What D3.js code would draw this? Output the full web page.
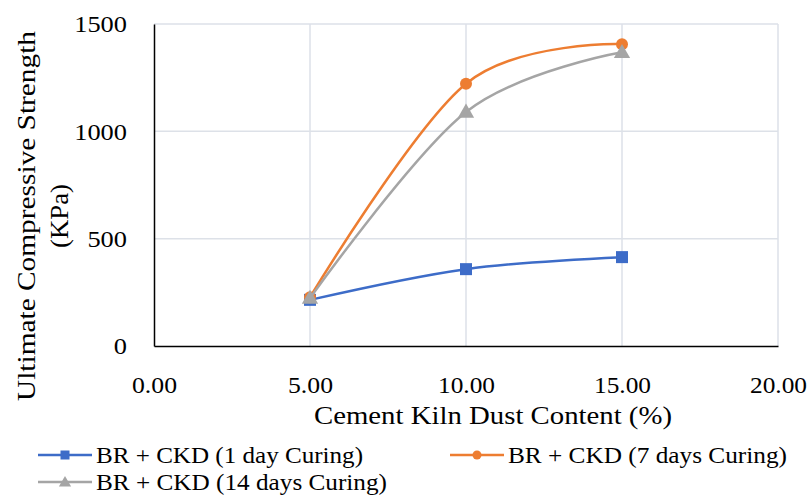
<!DOCTYPE html>
<html><head><meta charset="utf-8">
<script src="https://cdn.jsdelivr.net/npm/d3@7"></script>
<style>body{margin:0;background:#fff}svg{display:block}</style>
</head><body>
<svg id="c" width="812" height="498"></svg>
<script>
const xValues = [5, 10, 15];
const seriesNames = ["BR + CKD (1 day Curing)", "BR + CKD (7 days Curing)", "BR + CKD (14 days Curing)"];
const day1 = [215, 358, 414];
const day7 = [227, 1222, 1406];
const day14 = [223, 1090, 1368];
const xTicks = [0, 5, 10, 15, 20];
const yTicks = [0, 500, 1000, 1500];
const colors = ["#3D6CC8", "#ED7D31", "#A5A5A5"];
const markers = ["square", "circle", "triangle"];
const seriesData = [day1, day7, day14];

const svg = d3.select("#c");
const font = "'Liberation Serif', 'DejaVu Serif', serif";
const L = 154, R = 778, T = 24, B = 346;
const x = d3.scaleLinear().domain([0, 20]).range([L, R]);
const y = d3.scaleLinear().domain([0, 1500]).range([B, T]);

// gridlines
svg.append("g").selectAll("line").data(xTicks.slice(1)).join("line")
  .attr("x1", d => x(d)).attr("x2", d => x(d)).attr("y1", T).attr("y2", B)
  .attr("stroke", "#dde1e8").attr("stroke-width", 1.5);
svg.append("g").selectAll("line").data(yTicks.slice(1)).join("line")
  .attr("x1", L).attr("x2", R).attr("y1", d => y(d)).attr("y2", d => y(d))
  .attr("stroke", "#dde1e8").attr("stroke-width", 1.5);

// axes
const xAxis = svg.append("g").attr("transform", `translate(0,${B})`)
  .call(d3.axisBottom(x).tickValues(xTicks).tickFormat(d3.format(".2f")).tickSize(0).tickPadding(30));
xAxis.select(".domain").attr("stroke", "#000").attr("stroke-width", 1.5);
xAxis.selectAll("text").attr("font-family", font).attr("font-size", 24).attr("fill", "#000")
  .attr("textLength", d => d >= 10 ? 57 : 45).attr("lengthAdjust", "spacingAndGlyphs");

const yAxis = svg.append("g").attr("transform", `translate(${L},0)`)
  .call(d3.axisLeft(y).tickValues(yTicks).tickFormat(d3.format("d")).tickSize(0).tickPadding(27));
yAxis.select(".domain").attr("stroke", "#000").attr("stroke-width", 1.5);
yAxis.selectAll("text").attr("font-family", font).attr("font-size", 24).attr("fill", "#000")
  .attr("textLength", d => String(d).length * 13.2).attr("lengthAdjust", "spacingAndGlyphs");

// axis titles
svg.append("text").attr("x", 493).attr("y", 424).attr("text-anchor", "middle")
  .attr("font-family", font).attr("font-size", 25)
  .attr("textLength", 358).attr("lengthAdjust", "spacingAndGlyphs")
  .text("Cement Kiln Dust Content (%)");
const yt = svg.append("g").attr("transform", "translate(0,216) rotate(-90)");
yt.append("text").attr("x", 0).attr("y", 35).attr("text-anchor", "middle")
  .attr("font-family", font).attr("font-size", 25)
  .attr("textLength", 370).attr("lengthAdjust", "spacingAndGlyphs")
  .text("Ultimate Compressive Strength");
yt.append("text").attr("x", 0).attr("y", 68).attr("text-anchor", "middle")
  .attr("font-family", font).attr("font-size", 25)
  .attr("textLength", 64).attr("lengthAdjust", "spacingAndGlyphs")
  .text("(KPa)");

function drawMarker(g, type, cx, cy, color, s) {
  if (type === "square") g.append("rect").attr("x", cx - s/2).attr("y", cy - s/2).attr("width", s).attr("height", s).attr("fill", color);
  else if (type === "circle") g.append("circle").attr("cx", cx).attr("cy", cy).attr("r", s/2).attr("fill", color);
  else g.append("path").attr("d", d3.symbol(d3.symbolTriangle, s * s * 0.8)()).attr("transform", `translate(${cx},${cy + 1})`).attr("fill", color);
}

const line = d3.line().x((d, i) => x(xValues[i])).y(d => y(d)).curve(d3.curveCatmullRom.alpha(0));
seriesData.forEach((vals, k) => {
  const g = svg.append("g");
  g.append("path").attr("d", line(vals)).attr("fill", "none").attr("stroke", colors[k]).attr("stroke-width", 2.5);
  vals.forEach((v, i) => drawMarker(g, markers[k], x(xValues[i]), y(v), colors[k], 12));
});

// legend
const legendPos = [[38, 455], [450, 455], [38, 482]];
const legendWidths = [267, 279, 291];
seriesNames.forEach((name, k) => {
  const [lx, ly] = legendPos[k];
  const g = svg.append("g");
  g.append("line").attr("x1", lx).attr("x2", lx + 54).attr("y1", ly).attr("y2", ly).attr("stroke", colors[k]).attr("stroke-width", 2.5);
  drawMarker(g, markers[k], lx + 27, ly, colors[k], 9);
  g.append("text").attr("x", lx + 58).attr("y", ly + 8).attr("font-family", font).attr("font-size", 24)
    .attr("textLength", legendWidths[k]).attr("lengthAdjust", "spacingAndGlyphs").text(name);
});
</script>
</body></html>
